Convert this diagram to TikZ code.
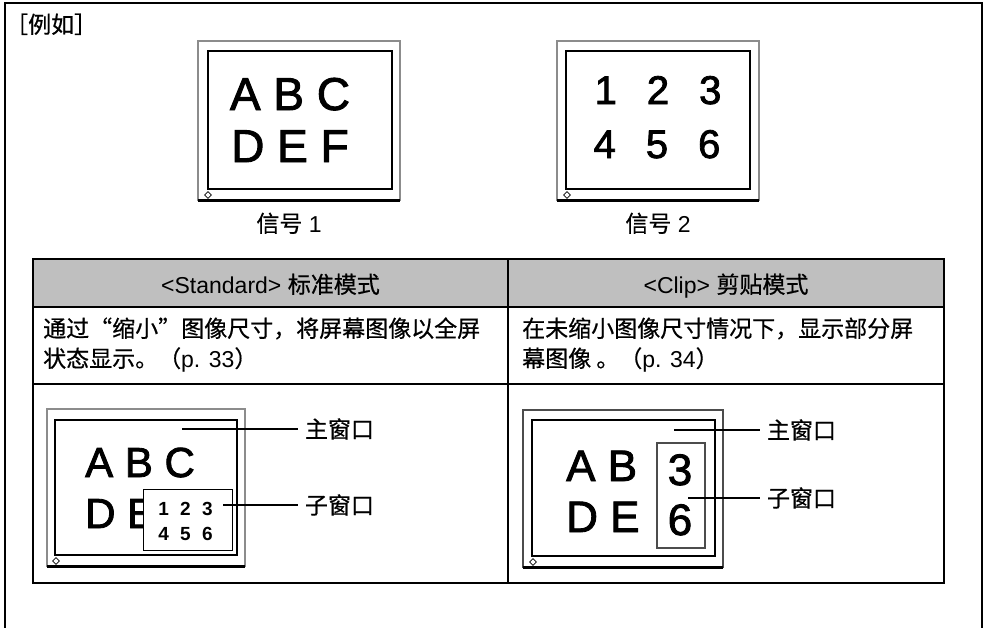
\documentclass[tikz,border=0pt]{standalone}
\usepackage{fontspec}
\setmainfont{Liberation Sans}
\newfontfamily\heavy{Liberation Sans}[FakeBold=2]
\newfontfamily\cjk{Noto Sans CJK SC}[FakeBold=0.6]
\usetikzlibrary{shapes.geometric}

\tikzset{
  frameline/.style={line width=2.5pt},
  rule/.style={line width=2pt},
  bezel/.style={draw=black!45, line width=1.3pt},
  screen/.style={draw, line width=1.5pt},
  standline/.style={line width=3pt},
  knob/.style={diamond, draw, fill=white, inner sep=0pt, minimum size=7pt, line width=0.8pt},
  leader/.style={line width=2.5pt},
  lbl/.style={anchor=west, inner sep=0pt, outer sep=7pt, font=\cjk\fontsize{23}{28}\selectfont},
  txt/.style={inner sep=0pt, anchor=base, font=\fontsize{23}{28}\selectfont},
  glyphs/.style={inner sep=0pt, anchor=base, font=\heavy\fontsize{#1}{#1}\selectfont},
  smalldigits/.style={inner sep=0pt, anchor=base, font=\bfseries\fontsize{19}{19}\selectfont},
}

\begin{document}
\begin{tikzpicture}[x=1pt,y=-1pt]
\useasboundingbox (0,0) rectangle (985,627);

% outer frame
\draw[frameline] (5,640) -- (5,3) -- (982,3) -- (982,640);
\node[txt, anchor=base west] (title) at (5,33) {\cjk ［例如］};

% signal 1
\draw[bezel] (198,41) rectangle (400,200);
\draw[screen] (208,51) rectangle (392,189);
\draw[standline] (198,200) -- (400,200);
\node[knob] (knobA) at (208,195) {};
\node[glyphs=46] (sigAone) at (290,110) {A B C};
\node[glyphs=46] (sigAtwo) at (290,162) {D E F};
\node[txt] (sigAname) at (289,232) {{\cjk 信号} 1};

% signal 2
\draw[bezel] (557,41) rectangle (759,200);
\draw[screen] (566,51) rectangle (750,189);
\draw[standline] (557,200) -- (759,200);
\node[knob] (knobB) at (567,195) {};
\node[glyphs=40] (sigBone) at (658,104) {1\hspace{.75em}2\hspace{.75em}3};
\node[glyphs=40] (sigBtwo) at (657,158) {4\hspace{.75em}5\hspace{.75em}6};
\node[txt] (sigBname) at (658,232) {{\cjk 信号} 2};

% table
\fill[gray!50] (33,259) rectangle (944,307);
\draw[rule] (33,259) rectangle (944,583);
\draw[rule] (33,307) -- (944,307);
\draw[rule] (33,384) -- (944,384);
\draw[rule] (508,259) -- (508,583);

\node[txt] (stdhead) at (270.5,293) {<Standard> {\cjk 标准模式}};
\node[txt] (cliphead) at (726,293) {<Clip> {\cjk 剪贴模式}};

\node[txt, anchor=base west] (stddescA) at (43,337) {\cjk 通过“缩小”图像尺寸，将屏幕图像以全屏};
\node[txt, anchor=base west] (stddescB) at (43,367) {{\cjk 状态显示。（}p. 33{\cjk ）}};
\node[txt, anchor=base west] (clipdescA) at (522,337) {\cjk 在未缩小图像尺寸情况下，显示部分屏};
\node[txt, anchor=base west] (clipdescB) at (522,367) {{\cjk 幕图像 。（}p. 34{\cjk ）}};

% standard mode
\draw[bezel] (47,409) rectangle (245,566);
\draw[screen] (55,420) rectangle (237,555);
\draw[standline] (47,566) -- (245,566);
\node[knob] (knobC) at (56,561) {};
\node[glyphs=42, anchor=base west] (stdone) at (85,477) {A B C};
\node[glyphs=42, anchor=base west] (stdtwo) at (85,528) {D E};
\draw[fill=white, line width=1pt] (143,489) rectangle (232,550);
\node[smalldigits] (subone) at (185.5,515) {1\hspace{.6em}2\hspace{.6em}3};
\node[smalldigits] (subtwo) at (185.5,540) {4\hspace{.6em}5\hspace{.6em}6};

\coordinate (stdmainpt) at (182,429);
\coordinate (stdsubpt) at (223,505);
\node[lbl] (stdmain) at (298,429) {主窗口};
\node[lbl] (stdsub) at (298,505) {子窗口};
\draw[leader] (stdmainpt) -- (stdmain.west);
\draw[leader] (stdsubpt) -- (stdsub.west);

% clip mode
\draw[draw=black!70, line width=1.3pt] (523,410) rectangle (723,567);
\draw[screen, line width=2.2pt] (532,420) rectangle (715,556);
\draw[standline] (523,567) -- (723,567);
\node[knob] (knobD) at (533,562) {};
\node[glyphs=44, anchor=base west] (clipone) at (566,481) {A B};
\node[glyphs=44, anchor=base west] (cliptwo) at (566,532) {D E};
\draw[black!70, line width=1.3pt] (657,443) rectangle (705,548);
\node[glyphs=44] (clipthree) at (680,485) {3};
\node[glyphs=44] (clipsix) at (680,535) {6};

\coordinate (clipmainpt) at (674,430);
\coordinate (clipsubpt) at (688,498);
\node[lbl] (clipmain) at (760,430) {主窗口};
\node[lbl] (clipsub) at (760,498) {子窗口};
\draw[leader] (clipmainpt) -- (clipmain.west);
\draw[leader] (clipsubpt) -- (clipsub.west);
\end{tikzpicture}
\end{document}
